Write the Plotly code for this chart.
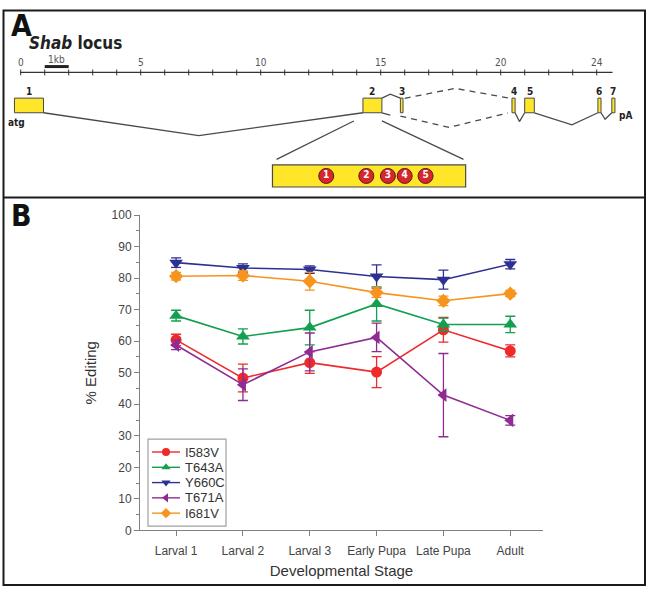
import plotly.graph_objects as go

W, H = 649, 597

# ---------------- Panel B data ----------------
stages = ["Larval 1", "Larval 2", "Larval 3", "Early Pupa", "Late Pupa", "Adult"]
sites = ["I583V", "T643A", "Y660C", "T671A", "I681V"]
I583V = [60.4, 48.3, 53.2, 50.2, 63.6, 56.9]
I583V_err = [1.8, 4.4, 3.4, 4.9, 3.9, 1.9]
T643A = [68.1, 61.5, 64.3, 71.8, 65.3, 65.3]
T643A_err = [1.7, 2.4, 5.5, 5.4, 2.0, 2.6]
Y660C = [84.9, 83.2, 82.7, 80.5, 79.5, 84.4]
Y660C_err = [1.5, 1.3, 1.2, 3.7, 3.0, 1.5]
T671A = [58.8, 46.2, 56.6, 61.2, 42.9, 34.9]
T671A_err = [1.5, 5.0, 6.0, 4.5, 13.2, 1.5]
I681V = [80.6, 80.8, 79.0, 75.4, 72.8, 75.1]
I681V_err = [1.2, 1.5, 2.8, 1.5, 1.5, 1.0]

values = [I583V, T643A, Y660C, T671A, I681V]
errors = [I583V_err, T643A_err, Y660C_err, T671A_err, I681V_err]
colors = ["#EE2A2A", "#12A050", "#2E3192", "#8E2C93", "#F7941D"]
symbols = ["circle", "triangle-up", "triangle-down", "triangle-left", "diamond"]
msizes = [11, 12, 12, 12, 11]

# ---------------- Panel A data (kb) ----------------
exon_labels = ["1", "2", "3", "4", "5", "6", "7"]
exon_start = [-0.26, 14.26, 15.82, 20.47, 21.0, 24.05, 24.63]
exon_end = [0.95, 15.05, 15.93, 20.60, 21.4, 24.18, 24.76]
ruler_ticks = list(range(0, 25))
ruler_labels = [0, 5, 10, 15, 20, 24]
edit_sites = ["1", "2", "3", "4", "5"]
edit_site_pos = [12.73, 14.40, 15.30, 16.0, 16.87]
inset_start, inset_end = 10.49, 18.54

KB0, KBPX = 20.7, 24.0  # pixel of 0 kb, pixels per kb

fig = go.Figure()

# ---- Panel B traces ----
xs = list(range(len(stages)))
for name, v, e, c, s, ms in zip(sites, values, errors, colors, symbols, msizes):
    fig.add_trace(go.Scatter(
        x=xs, y=v, name=name, mode="lines+markers",
        line=dict(color=c, width=1.6),
        marker=dict(symbol=s, size=ms, color=c, line=dict(width=0)),
        error_y=dict(type="data", array=e, visible=True, color=c, thickness=1.3, width=5),
        xaxis="x", yaxis="y", showlegend=False, cliponaxis=False,
    ))

# ---- Panel A traces (x in kb, y in pixels) ----
line_col = "#4A4A4A"
EY0, EY1 = 93.3, 108.3

def seg(xk, ypx, dash="solid", width=1.3, color=line_col):
    fig.add_trace(go.Scatter(x=xk, y=ypx, mode="lines", xaxis="x2", yaxis="y2",
                             line=dict(color=color, width=width, dash=dash),
                             showlegend=False, hoverinfo="skip"))

# ruler
seg([-0.03, 24.66], [67, 67], width=1.3, color="#333333")
for t in ruler_ticks:
    seg([t, t], [64, 70], width=1, color="#333333")
# 1 kb scale bar
seg([1, 2], [61, 61], width=3, color="#222222")

# introns
seg([exon_end[0], 7.42, exon_start[1]], [EY1, 131.7, EY1])
seg([exon_end[1], 15.4, exon_start[2]], [EY0, 89.3, EY0])
seg([exon_end[1], 15.4], [EY1, 110.7])
seg([16.0, 18.1, 20.35], [93.5, 83.3, 93.3], dash="6px,5px")
seg([15.82, 17.85, 20.3], [111.7, 123.3, 108.5], dash="6px,5px")
seg([exon_end[3], 20.78, exon_start[4]], [EY1, 117.3, EY1])
seg([exon_end[4], 22.97, exon_start[5]], [EY1, 120.7, EY1])
seg([exon_end[5], 24.35, exon_start[6]], [EY1, 115.0, EY1])
# zoom lines to inset
seg([13.88, inset_start + 0.17], [116.7, 156])
seg([exon_end[1], inset_end - 0.09], [116.7, 156])

# edit sites circles
fig.add_trace(go.Scatter(
    x=edit_site_pos, y=[173] * len(edit_site_pos), mode="markers+text",
    xaxis="x2", yaxis="y2", text=edit_sites, textposition="middle center",
    textfont=dict(family="DejaVu Sans Condensed, Liberation Sans", size=10, color="white", weight="bold"),
    marker=dict(size=15, color="#D8262C", line=dict(color="#5A1A1A", width=1)),
    showlegend=False, hoverinfo="skip", cliponaxis=False))

shapes = []
yellow = "#FFE629"
for s, e in zip(exon_start, exon_end):
    shapes.append(dict(type="rect", xref="x2", yref="y2", x0=s, x1=e, y0=EY0, y1=EY1,
                       fillcolor=yellow, line=dict(color=line_col, width=1), layer="below"))
shapes.append(dict(type="rect", xref="x2", yref="y2", x0=inset_start, x1=inset_end, y0=161.7, y1=184.3,
                   fillcolor=yellow, line=dict(color=line_col, width=1.2), layer="below"))

# frame & divider (paper coords from pixels)
def px(x):
    return x / W

def py(y):
    return 1 - y / H

shapes.append(dict(type="rect", xref="paper", yref="paper", x0=px(3.5), x1=px(645), y0=py(3.5), y1=py(592),
                   line=dict(color="#1A1A1A", width=2)))
shapes.append(dict(type="line", xref="paper", yref="paper", x0=px(3.5), x1=px(645), y0=py(195), y1=py(195),
                   line=dict(color="#1A1A1A", width=2)))

annotations = []
cond = "DejaVu Sans Condensed, Liberation Sans Narrow, Liberation Sans, Arial"
annotations.append(dict(text="<b>A</b>", x=px(9), y=py(19), xref="paper", yref="paper", xanchor="left",
                        yanchor="middle", showarrow=False, font=dict(family=cond, size=30, color="#111")))
annotations.append(dict(text="<b>B</b>", x=px(9), y=py(213), xref="paper", yref="paper", xanchor="left",
                        yanchor="middle", showarrow=False, font=dict(family=cond, size=30, color="#111")))
annotations.append(dict(text="<b><i>Shab</i> locus</b>", x=px(27), y=py(37), xref="paper", yref="paper",
                        xanchor="left", yanchor="middle", showarrow=False,
                        font=dict(family=cond, size=17, color="#222")))
for t in ruler_labels:
    annotations.append(dict(text=str(t), x=t, y=57, xref="x2", yref="y2", showarrow=False,
                            font=dict(family=cond, size=10, color="#555")))
annotations.append(dict(text="1kb", x=1.5, y=54, xref="x2", yref="y2", showarrow=False,
                        font=dict(family=cond, size=10, color="#555")))
for lab, s, e in zip(exon_labels, exon_start, exon_end):
    annotations.append(dict(text="<b>" + lab + "</b>", x=(s + e) / 2, y=87, xref="x2", yref="y2", showarrow=False,
                            font=dict(family=cond, size=10, color="#222")))
annotations.append(dict(text="<b>atg</b>", x=-0.18, y=118, xref="x2", yref="y2", showarrow=False,
                        font=dict(family=cond, size=10, color="#222")))
annotations.append(dict(text="<b>pA</b>", x=25.18, y=111, xref="x2", yref="y2", showarrow=False,
                        font=dict(family=cond, size=10, color="#222")))

# ---- manual legend (pixel coords on x3/y2) ----
shapes.append(dict(type="rect", xref="paper", yref="paper", x0=px(148), x1=px(226), y0=py(442.5), y1=py(531.5),
                   line=dict(color="#A0A0A0", width=1.2), fillcolor="white", layer="below"))
leg_y0, leg_dy = 455.7, 15.65
for i, (name, c, s) in enumerate(zip(sites, colors, symbols)):
    yy = leg_y0 + i * leg_dy
    fig.add_trace(go.Scatter(x=[152, 166, 180], y=[yy, yy, yy], mode="lines", xaxis="x3", yaxis="y2",
                             line=dict(color=c, width=1.4), showlegend=False, hoverinfo="skip"))
    fig.add_trace(go.Scatter(x=[166], y=[yy], mode="markers", xaxis="x3", yaxis="y2",
                             marker=dict(symbol=s, size=8, color=c, line=dict(width=0)),
                             showlegend=False, hoverinfo="skip"))
    annotations.append(dict(text=name, x=183, y=yy, xref="x3", yref="y2", xanchor="left", yanchor="middle",
                            showarrow=False, font=dict(family="Liberation Sans", size=13, color="#333")))

axis_col = "#808080"
tick_font = dict(family="Liberation Sans", size=12, color="#444")
fig.update_layout(
    width=W, height=H, autosize=False,
    margin=dict(l=0, r=0, t=0, b=0),
    paper_bgcolor="white", plot_bgcolor="rgba(0,0,0,0)",
    showlegend=False,
    shapes=shapes, annotations=annotations,
    xaxis=dict(domain=[px(140), px(543)], range=[-0.54, 5.49], tickmode="array", tickvals=xs, ticktext=stages,
               showgrid=False, zeroline=False, showline=True, linecolor=axis_col, linewidth=1,
               ticks="outside", ticklen=5, tickcolor=axis_col, tickfont=tick_font, ticklabelstandoff=4,
               title=dict(text="Developmental Stage", font=dict(family="Liberation Sans", size=15, color="#333"),
                          standoff=8),
               anchor="y", fixedrange=True),
    yaxis=dict(domain=[py(536), py(213)], range=[0, 100], tickmode="linear", tick0=0, dtick=10,
               showgrid=False, zeroline=False, showline=True, linecolor=axis_col, linewidth=1,
               ticks="outside", ticklen=5, tickcolor=axis_col, tickfont=tick_font,
               minor=dict(dtick=5, ticks="outside", ticklen=3, tickcolor=axis_col, showgrid=False),
               title=dict(text="% Editing", font=dict(family="Liberation Sans", size=15, color="#333"),
                          standoff=11),
               anchor="x", fixedrange=True),
    xaxis2=dict(domain=[0, 1], range=[-KB0 / KBPX, (W - KB0) / KBPX], visible=False, anchor="y2", fixedrange=True),
    yaxis2=dict(domain=[0, 1], range=[H, 0], visible=False, anchor="x2", fixedrange=True),
    xaxis3=dict(domain=[0, 1], range=[0, W], visible=False, anchor="y2", fixedrange=True),
)

fig.write_html("out.html", config={"displayModeBar": False},
               post_script="document.body.style.margin='0';document.body.style.overflow='hidden';")
